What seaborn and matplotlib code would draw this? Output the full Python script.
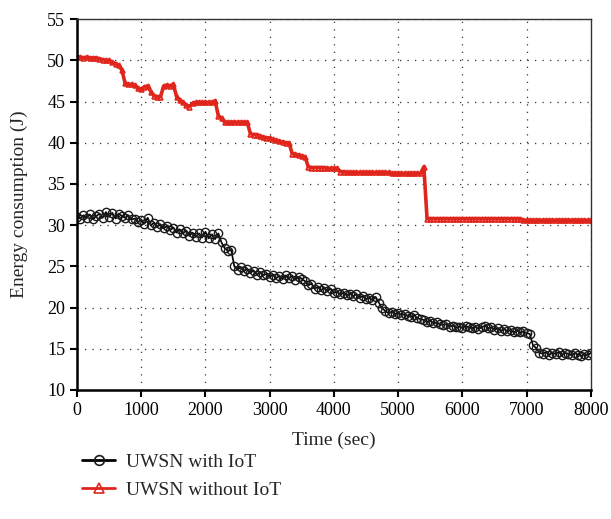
import pandas as pd
import numpy as np
import seaborn as sns
import matplotlib.pyplot as plt

# time axis, one sample every 50 s
time_sec = list(range(0, 8001, 50))

energy_with_iot = [
    31.0, 30.8, 31.2, 30.9, 31.3, 30.7, 31.1, 31.4, 30.9, 31.6,
    31.0, 31.5, 30.8, 31.4, 31.1, 30.9, 31.2, 30.7, 30.8, 30.4,
    30.6, 30.2, 30.9, 30.0, 30.3, 29.8, 30.1, 29.6, 29.9, 29.4,
    29.7, 29.1, 29.5, 29.0, 29.3, 28.7, 29.1, 28.6, 29.0, 28.5,
    29.2, 28.4, 28.9, 28.3, 29.0, 27.9, 27.2, 26.9, 27.0, 25.0,
    24.6, 24.9, 24.4, 24.7, 24.2, 24.5, 24.0, 24.3, 23.9, 24.1,
    23.7, 24.0, 23.6, 23.8, 23.5, 23.9, 23.6, 23.8, 23.4, 23.7,
    23.5, 23.2, 22.7, 22.9, 22.3, 22.5, 22.1, 22.4, 22.0, 22.3,
    21.8, 21.9, 21.6, 21.8, 21.5, 21.7, 21.4, 21.6, 21.2, 21.4,
    21.0, 21.2, 20.9, 21.3, 20.6, 19.9, 19.6, 19.3, 19.5, 19.2,
    19.4, 19.1, 19.2, 19.0, 18.9, 19.1, 18.7, 18.6, 18.5, 18.3,
    18.4, 18.1, 18.2, 18.0, 17.9, 18.0, 17.7, 17.8, 17.6, 17.7,
    17.5, 17.8, 17.6, 17.5, 17.7, 17.4, 17.6, 17.8, 17.5, 17.6,
    17.3, 17.5, 17.2, 17.4, 17.1, 17.3, 17.0, 17.2, 17.0, 17.1,
    16.9, 16.8, 15.4, 15.1, 14.5, 14.4, 14.6, 14.3, 14.5, 14.4,
    14.6, 14.3, 14.5, 14.4, 14.2, 14.5, 14.3, 14.1, 14.4, 14.2,
    14.5,
]

energy_without_iot = [
    50.4, 50.4, 50.3, 50.4, 50.3, 50.3, 50.3, 50.2, 50.1, 50.0,
    50.0, 49.8, 49.6, 49.4, 48.8, 47.2, 47.1, 47.1, 47.0, 46.6,
    46.5, 46.8, 46.9, 46.2, 45.7, 45.6, 45.6, 46.9, 47.0, 46.9,
    47.1, 45.6, 45.2, 44.9, 44.6, 44.4, 44.8, 44.9, 44.9, 44.9,
    44.9, 44.9, 44.9, 45.1, 43.3, 43.0, 42.5, 42.5, 42.5, 42.5,
    42.5, 42.5, 42.5, 42.5, 41.1, 41.0, 41.0, 40.8, 40.7, 40.6,
    40.6, 40.4, 40.3, 40.2, 40.1, 40.0, 40.0, 38.7, 38.6, 38.5,
    38.4, 38.3, 37.1, 37.0, 37.0, 37.0, 37.0, 37.0, 36.9, 36.9,
    36.9, 36.9, 36.5, 36.5, 36.4, 36.4, 36.4, 36.4, 36.4, 36.4,
    36.4, 36.4, 36.4, 36.4, 36.4, 36.4, 36.4, 36.4, 36.3, 36.3,
    36.3, 36.3, 36.3, 36.3, 36.3, 36.3, 36.3, 36.3, 37.1, 30.8,
    30.8, 30.8, 30.8, 30.8, 30.8, 30.8, 30.8, 30.8, 30.8, 30.8,
    30.8, 30.8, 30.8, 30.8, 30.8, 30.8, 30.8, 30.8, 30.8, 30.8,
    30.8, 30.8, 30.8, 30.8, 30.8, 30.8, 30.8, 30.8, 30.8, 30.6,
    30.6, 30.6, 30.6, 30.6, 30.6, 30.6, 30.6, 30.6, 30.6, 30.6,
    30.6, 30.6, 30.6, 30.6, 30.6, 30.6, 30.6, 30.6, 30.6, 30.6,
    30.6,
]

df = pd.DataFrame({'Time': time_sec,
                   'WithIoT': energy_with_iot,
                   'WithoutIoT': energy_without_iot})

sns.set_style('white')
plt.rcParams['font.family'] = ['Liberation Serif', 'DejaVu Serif']

fig = plt.figure(figsize=(6.11, 5.19), dpi=100)
ax = fig.add_axes([0.126, 0.2486, 0.841, 0.7144])

sns.lineplot(x='Time', y='WithIoT', data=df, ax=ax, color='black',
             linewidth=1.2, marker='o', markersize=6, fillstyle='none',
             markeredgewidth=1.0, markeredgecolor='#1a1a1a',
             label='UWSN with IoT')
sns.lineplot(x='Time', y='WithoutIoT', data=df, ax=ax, color='#e0261c',
             linewidth=2.6, marker='^', markersize=3.5, fillstyle='none',
             markeredgewidth=1.2, markeredgecolor='#e0261c',
             label='UWSN without IoT')

ax.set_xlim(0, 8000)
ax.set_ylim(10, 55)
ax.set_xticks(range(0, 8001, 1000))
ax.set_yticks(range(10, 56, 5))
ax.grid(True, color='#333333', linestyle=(0, (1, 5)), linewidth=0.9)

ax.tick_params(axis='both', direction='out', length=5, width=1.5,
               labelsize=13, colors='black', bottom=True, left=True)
for side in ['left', 'bottom']:
    ax.spines[side].set_linewidth(1.8)
    ax.spines[side].set_color('black')
for side in ['top', 'right']:
    ax.spines[side].set_linewidth(1.0)
    ax.spines[side].set_color('#333333')

ax.set_xlabel('Time (sec)', fontsize=14, labelpad=9)
ax.set_ylabel('Energy consumption (J)', fontsize=14, labelpad=14)

handles, labels = ax.get_legend_handles_labels()
ax.get_legend().remove()
leg = fig.legend(handles, labels, loc='upper left',
                 bbox_to_anchor=(0.122, 0.142), frameon=False, fontsize=14,
                 handlelength=1.7, labelspacing=0.55, handletextpad=0.55,
                 borderaxespad=0)
for line in leg.get_lines():
    line.set_linewidth(2.0)
    line.set_markersize(7)
    line.set_markeredgewidth(1.2)

plt.savefig('out.png', dpi=100)
